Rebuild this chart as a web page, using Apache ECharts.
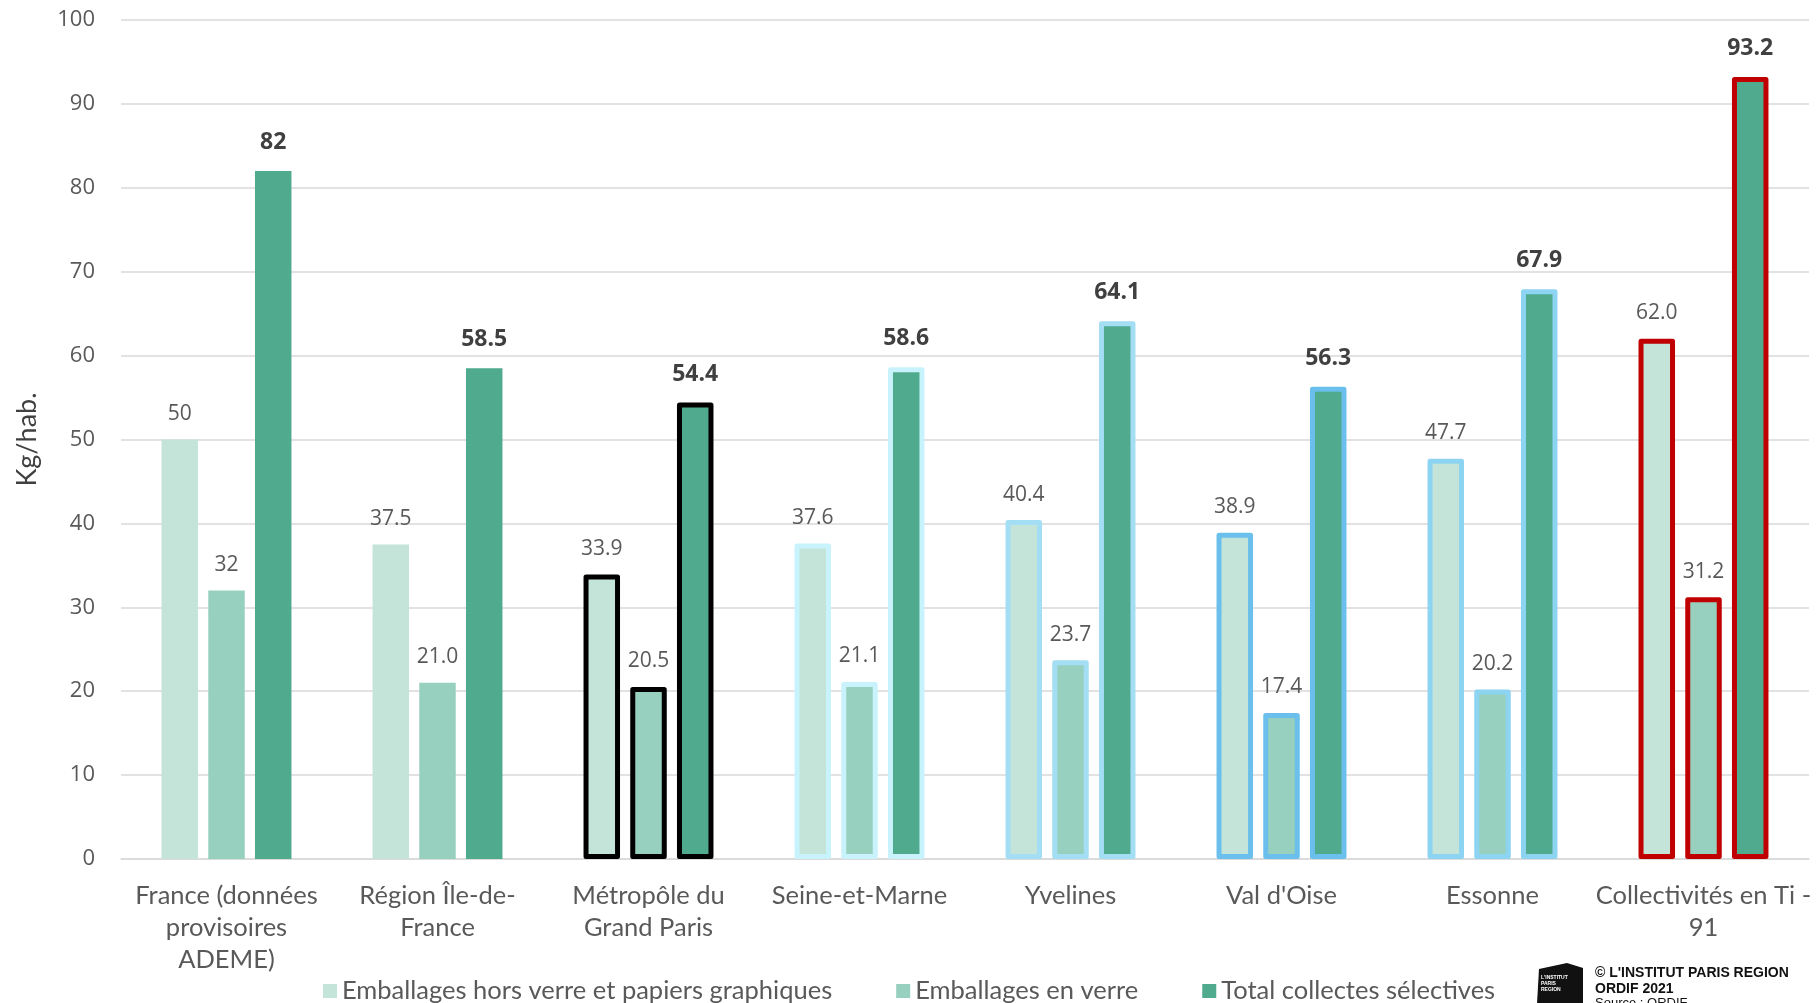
<!DOCTYPE html>
<html>
<head>
<meta charset="utf-8">
<script src="https://cdn.jsdelivr.net/npm/echarts@6/dist/echarts.min.js"></script>
<style>
html,body{margin:0;padding:0;background:#fff;}
#chart{width:1816px;height:1003px;}
</style>
</head>
<body>
<div id="chart"></div>
<script>
const categories = [
  "France (données\nprovisoires\nADEME)",
  "Région Île-de-\nFrance",
  "Métropôle du\nGrand Paris",
  "Seine-et-Marne",
  "Yvelines",
  "Val d'Oise",
  "Essonne",
  "Collectivités en Ti -\n91"
];
const seriesNames = [
  "Emballages hors verre et papiers graphiques",
  "Emballages en verre",
  "Total collectes sélectives"
];
const emballagesHorsVerre = [50, 37.5, 33.9, 37.6, 40.4, 38.9, 47.7, 62.0];
const emballagesVerre = [32, 21.0, 20.5, 21.1, 23.7, 17.4, 20.2, 31.2];
const totalCollectes = [82, 58.5, 54.4, 58.6, 64.1, 56.3, 67.9, 93.2];
const labelDecimals = [0, 1, 1, 1, 1, 1, 1, 1];
const yMin = 0, yMax = 100, yInterval = 10;

const seriesColors = ["#C4E4DA", "#97D0BE", "#4FAA8E"];
const borderColors = [null, null, "#000000", "#C9F3FC", "#A3DEF5", "#6ABFEC", "#8DD4F2", "#C00000"];

function buildData(values) {
  return values.map((v, i) => {
    const item = { value: v };
    if (borderColors[i]) {
      item.itemStyle = { borderColor: borderColors[i], borderWidth: 5, borderJoin: 'round' };
    }
    return item;
  });
}

function makeSeries(name, values, color, bold) {
  return {
    name: name,
    type: 'bar',
    barWidth: 36.5,
    barGap: '28%',
    data: buildData(values),
    itemStyle: { color: color },
    label: {
      show: true,
      position: 'top',
      distance: bold ? 17 : 15,
      fontFamily: 'Open Sans',
      fontSize: bold ? 23 : 21,
      fontWeight: bold ? 'bold' : 'normal',
      color: bold ? '#404040' : '#595959',
      formatter: p => p.value.toFixed(labelDecimals[p.dataIndex])
    }
  };
}

const chart = echarts.init(document.getElementById('chart'));
chart.setOption({
  backgroundColor: '#ffffff',
  animation: false,
  grid: { left: 121, right: 7, top: 20, bottom: 144, containLabel: false },
  legend: {
    left: 318,
    top: 973,
    itemWidth: 14,
    itemHeight: 14,
    itemGap: 64,
    icon: 'rect',
    textStyle: { fontFamily: 'Lato', fontSize: 25.5, color: '#595959', padding: [0, 0, 0, 0] },
    data: seriesNames
  },
  xAxis: {
    type: 'category',
    data: categories,
    axisLine: { show: true, lineStyle: { color: '#D9D9D9', width: 1.5 } },
    axisTick: { show: false },
    axisLabel: {
      fontFamily: 'Lato',
      fontSize: 25.5,
      color: '#595959',
      lineHeight: 32,
      margin: 21,
      interval: 0
    }
  },
  yAxis: {
    type: 'value',
    min: yMin,
    max: yMax,
    interval: yInterval,
    name: 'Kg/hab.',
    nameLocation: 'middle',
    nameGap: 80,
    nameTextStyle: { fontFamily: 'Lato', fontSize: 27, color: '#404040' },
    axisLine: { show: false },
    axisTick: { show: false },
    axisLabel: { fontFamily: 'Open Sans', fontSize: 22, color: '#595959', margin: 26 },
    splitLine: { lineStyle: { color: '#D9D9D9', width: 1.5 } }
  },
  series: [
    makeSeries(seriesNames[0], emballagesHorsVerre, seriesColors[0], false),
    makeSeries(seriesNames[1], emballagesVerre, seriesColors[1], false),
    makeSeries(seriesNames[2], totalCollectes, seriesColors[2], true)
  ],
  graphic: [
    {
      type: 'group',
      left: 1537,
      top: 963,
      children: [
        { type: 'polygon', shape: { points: [[2, 6], [30, 0], [46, 5], [46, 41], [0, 41]] }, style: { fill: '#111' } },
        { type: 'text', left: 4, top: 12, style: { text: "L'INSTITUT\nPARIS\nREGION", fill: '#fff', font: 'bold 5px Liberation Sans', lineHeight: 6 } },
        { type: 'text', left: 58, top: 3, style: { text: "© L'INSTITUT PARIS REGION", fill: '#111', font: 'bold 14px Liberation Sans' } },
        { type: 'text', left: 58, top: 19, style: { text: "ORDIF 2021", fill: '#111', font: 'bold 14px Liberation Sans' } },
        { type: 'text', left: 58, top: 34, style: { text: "Source : ORDIF", fill: '#111', font: '13px Liberation Sans' } }
      ]
    }
  ]
});
</script>
</body>
</html>
